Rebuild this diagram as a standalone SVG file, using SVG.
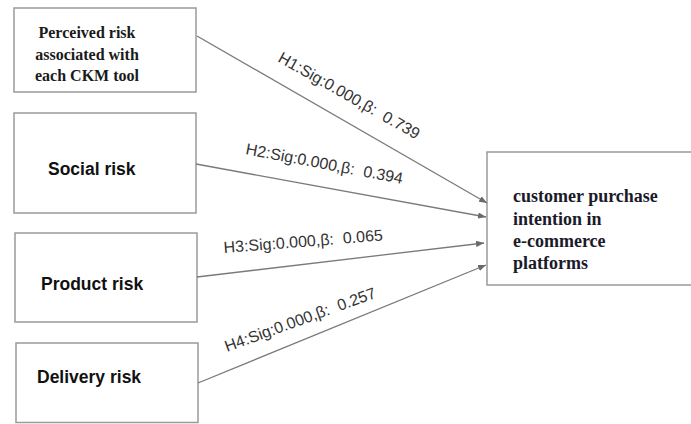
<svg xmlns="http://www.w3.org/2000/svg" width="691" height="424" viewBox="0 0 691 424">
<defs>
<style>
.box{fill:#fff;stroke:#9a9a9a;stroke-width:1.5}
.serif{font-family:"Liberation Serif","Times New Roman",serif;font-weight:bold;font-size:16px;fill:#1a1a1a}
.serifR{font-family:"Liberation Serif","Times New Roman",serif;font-weight:bold;font-size:18px;fill:#1a1a2a}
.sans{font-family:"Liberation Sans",Arial,sans-serif;font-weight:bold;font-size:17.5px;fill:#111}
.lbl{font-family:"Liberation Sans",Arial,sans-serif;font-size:16px;fill:#333}
.edge{stroke:#7a7a7a;stroke-width:1.3;fill:none;marker-end:url(#arr)}
</style>
<marker id="arr" viewBox="0 0 10 8" refX="10" refY="4" markerWidth="8" markerHeight="6.4" markerUnits="userSpaceOnUse" orient="auto">
<path d="M0,0 L10,4 L0,8 z" fill="#6a6a6a"/>
</marker>
</defs>
<rect width="691" height="424" fill="#fff"/>
<g id="n1">
<rect class="box" x="14" y="8" width="182" height="84"/>
<text class="serif" text-anchor="middle"><tspan x="87" y="38">Perceived risk</tspan><tspan x="87" y="59.5">associated with</tspan><tspan x="87" y="81">each CKM tool</tspan></text>
</g>
<g id="n2">
<rect class="box" x="14" y="113" width="182" height="100"/>
<text class="sans" x="48" y="175">Social risk</text>
</g>
<g id="n3">
<rect class="box" x="15" y="233" width="182" height="89"/>
<text class="sans" x="41" y="290">Product risk</text>
</g>
<g id="n4">
<rect class="box" x="16" y="343" width="182" height="79.5"/>
<text class="sans" x="37" y="383">Delivery risk</text>
</g>
<g id="n5">
<rect class="box" x="487" y="152" width="210" height="133"/>
<text class="serifR"><tspan x="513" y="202">customer purchase</tspan><tspan x="513" y="224.5">intention in</tspan><tspan x="513" y="246.5">e-commerce</tspan><tspan x="513" y="268.5">platforms</tspan></text>
</g>
<g id="edges">
<line class="edge" x1="197" y1="36" x2="487" y2="203"/>
<line class="edge" x1="196" y1="164" x2="486" y2="217"/>
<line class="edge" x1="197" y1="277" x2="484" y2="243"/>
<line class="edge" x1="198" y1="383" x2="486" y2="265"/>
<text class="lbl" transform="translate(277,61) rotate(29.5)">H1:Sig:0.000,β:<tspan dx="9">0.739</tspan></text>
<text class="lbl" transform="translate(245,154) rotate(10.8)">H2:Sig:0.000,β:<tspan dx="9">0.394</tspan></text>
<text class="lbl" transform="translate(224,253) rotate(-4.5)">H3:Sig:0.000,β:<tspan dx="9">0.065</tspan></text>
<text class="lbl" transform="translate(227,352) rotate(-20)">H4:Sig:0.000,β:<tspan dx="9">0.257</tspan></text>
</g>
</svg>
